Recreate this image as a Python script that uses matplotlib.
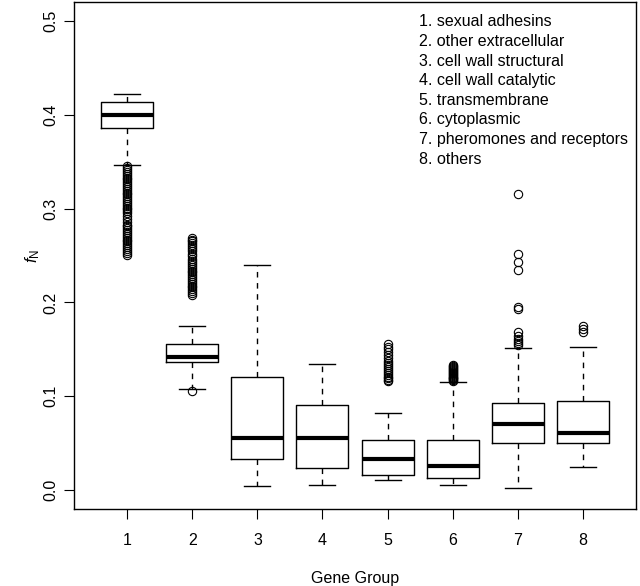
import matplotlib
matplotlib.use("Agg")
from matplotlib import pyplot as plt

plt.rcParams['font.family'] = ['Liberation Sans', 'DejaVu Sans']
plt.rcParams['mathtext.fontset'] = 'custom'
plt.rcParams['mathtext.rm'] = 'Liberation Sans'
plt.rcParams['mathtext.it'] = 'Liberation Sans:italic'

groups = [1, 2, 3, 4, 5, 6, 7, 8]
group_names = ["sexual adhesins", "other extracellular", "cell wall structural",
               "cell wall catalytic", "transmembrane", "cytoplasmic",
               "pheromones and receptors", "others"]

# box summaries
whisk_lo = [0.346, 0.1075, 0.005, 0.0057, 0.011, 0.0053, 0.002, 0.025]
q1 = [0.386, 0.1366, 0.0334, 0.0238, 0.0164, 0.0128, 0.0505, 0.0505]
med = [0.400, 0.1423, 0.0555, 0.0552, 0.033, 0.0263, 0.0705, 0.0605]
q3 = [0.413, 0.156, 0.121, 0.091, 0.053, 0.054, 0.0925, 0.0947]
whisk_hi = [0.422, 0.1747, 0.2395, 0.1345, 0.082, 0.1156, 0.152, 0.153]

out1 = [0.345, 0.343, 0.341, 0.339, 0.337, 0.335, 0.333, 0.331, 0.329, 0.327,
        0.325, 0.323, 0.321, 0.319, 0.317, 0.315, 0.313, 0.311, 0.309, 0.307,
        0.305, 0.303, 0.301, 0.299, 0.297, 0.295, 0.292, 0.289, 0.286, 0.283,
        0.281, 0.279, 0.277, 0.275, 0.273, 0.271, 0.269, 0.267, 0.265, 0.263,
        0.261, 0.259, 0.257, 0.255, 0.253, 0.251]
out2 = [0.269, 0.267, 0.265, 0.263, 0.261, 0.259, 0.257, 0.255, 0.252, 0.249,
        0.246, 0.244, 0.242, 0.240, 0.238, 0.236, 0.234, 0.232, 0.230, 0.228,
        0.226, 0.224, 0.222, 0.220, 0.218, 0.216, 0.214, 0.212, 0.210, 0.208,
        0.106]
out3 = []
out4 = []
out5 = [0.156, 0.153, 0.150, 0.147, 0.144, 0.141, 0.138, 0.135, 0.133, 0.131,
        0.129, 0.127, 0.125, 0.123, 0.121, 0.119, 0.117, 0.116]
out6 = [0.133, 0.132, 0.131, 0.130, 0.129, 0.128, 0.127, 0.126, 0.125, 0.124,
        0.123, 0.122, 0.121, 0.120, 0.119, 0.118, 0.117, 0.116]
out7 = [0.315, 0.2516, 0.2434, 0.2345, 0.195, 0.193, 0.1687, 0.164, 0.161,
        0.159, 0.157, 0.155]
out8 = [0.175, 0.172, 0.168]
outliers = [out1, out2, out3, out4, out5, out6, out7, out8]

stats = []
for i in range(len(groups)):
    stats.append({'whislo': whisk_lo[i], 'q1': q1[i], 'med': med[i],
                  'q3': q3[i], 'whishi': whisk_hi[i], 'fliers': outliers[i]})

fig = plt.figure(figsize=(6.4, 5.86), dpi=100)
ax = fig.add_axes([74/640, 77/586, 562/640, 507/586])

ax.bxp(stats, positions=groups, widths=0.8, capwidths=0.4, showfliers=True,
       boxprops=dict(color='black', linewidth=1),
       medianprops=dict(color='black', linewidth=3, solid_capstyle='butt'),
       whiskerprops=dict(color='black', linewidth=1, linestyle=(0, (4, 4))),
       capprops=dict(color='black', linewidth=1),
       flierprops=dict(marker='o', markerfacecolor='none', markeredgecolor='black',
                       markersize=6, markeredgewidth=0.8, linestyle='none'))

ax.set_xlim(0.18, 8.82)
ax.set_ylim(-0.02, 0.52)
ax.set_xticks(groups)
ax.set_xticklabels([str(g) for g in groups])
ax.set_yticks([0.0, 0.1, 0.2, 0.3, 0.4, 0.5])
ax.set_yticklabels(['0.0', '0.1', '0.2', '0.3', '0.4', '0.5'], rotation=90, va='center')
ax.tick_params(axis='both', direction='out', length=7, width=0.8, labelsize=11.5)
ax.tick_params(axis='x', pad=10)
ax.tick_params(axis='y', pad=4)
for s in ax.spines.values():
    s.set_linewidth(1)

ax.set_xlabel('Gene Group', fontsize=11.5, labelpad=17)
ax.set_ylabel(r'$\mathit{f}_{\mathrm{N}}$', fontsize=12, labelpad=1)

for i, name in enumerate(group_names):
    fig.text(419/640, 1 - (21.7 + 19.65*i)/586, f'{groups[i]}. {name}',
             fontsize=11.5, va='center', ha='left')

fig.savefig('out.png', dpi=100)
